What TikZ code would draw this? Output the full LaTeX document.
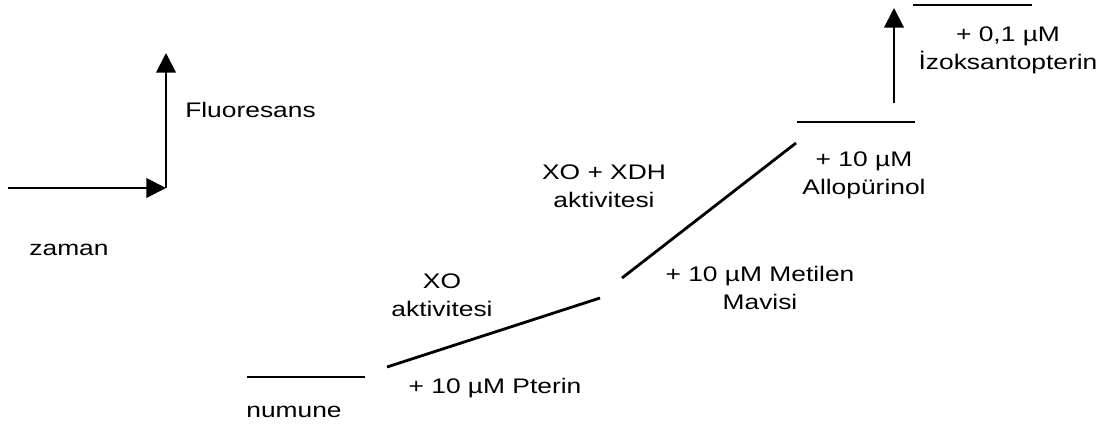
\documentclass[tikz,border=0pt]{standalone}
\usepackage{fontspec}
\setmainfont[FakeStretch=1.25]{Liberation Sans}
\usetikzlibrary{arrows.meta,positioning}

\begin{document}
\begin{tikzpicture}[x=0.025cm,y=-0.025cm,
    level/.style={line width=2pt},
    axis/.style={line width=1.4pt,-{Triangle[length=14pt,width=14pt]}},
    lbl/.style={font=\fontsize{15}{20}\selectfont,align=center,inner sep=0pt}]
    \useasboundingbox (0,0) rectangle (1110,433);

    % Axes
    \coordinate (tstart) at (8,188);
    \coordinate (origin) at (166,188);
    \coordinate (ftop) at (166,53);
    \draw [axis] (tstart) -- (origin);
    \draw [axis] (origin) -- (ftop);
    \node [lbl, anchor=west] (fluor) at (185,110) {Fluoresans};
    \node [lbl] (zaman) at (69,250) {zaman};

    % Sample level
    \coordinate (numL) at (247,377); \coordinate (numR) at (365,377);
    \draw [level] (numL) -- (numR);
    \node [lbl] (numune) at (294,412) {numune};

    % XO activity
    \coordinate (xoA) at (387,367); \coordinate (xoB) at (600,298);
    \draw [level] (xoA) -- (xoB);
    \node [lbl] (pterin) at (495,388) {+ 10 µM Pterin};
    \node [lbl] (xoact) at (442,295) {XO\\aktivitesi};

    % XO + XDH activity
    \coordinate (xdhA) at (622,278); \coordinate (xdhB) at (796,143);
    \draw [level] (xdhA) -- (xdhB);
    \node [lbl] (metilen) at (760,288) {+ 10 µM Metilen\\Mavisi};
    \node [lbl] (xdhact) at (604,186) {XO + XDH\\aktivitesi};

    % Allopurinol level
    \coordinate (alloL) at (797,122); \coordinate (alloR) at (915,122);
    \draw [level] (alloL) -- (alloR);
    \node [lbl] (allo) at (864,175) {+ 10 µM\\Allopürinol};

    % Isoxanthopterin
    \coordinate (jumpA) at (894,103); \coordinate (jumpB) at (894,8);
    \draw [axis] (jumpA) -- (jumpB);
    \coordinate (topL) at (913,5); \coordinate (topR) at (1032,5);
    \draw [level] (topL) -- (topR);
    \node [lbl] (izo) at (1008,50) {+ 0,1 µM\\İzoksantopterin};

\end{tikzpicture}
\end{document}
